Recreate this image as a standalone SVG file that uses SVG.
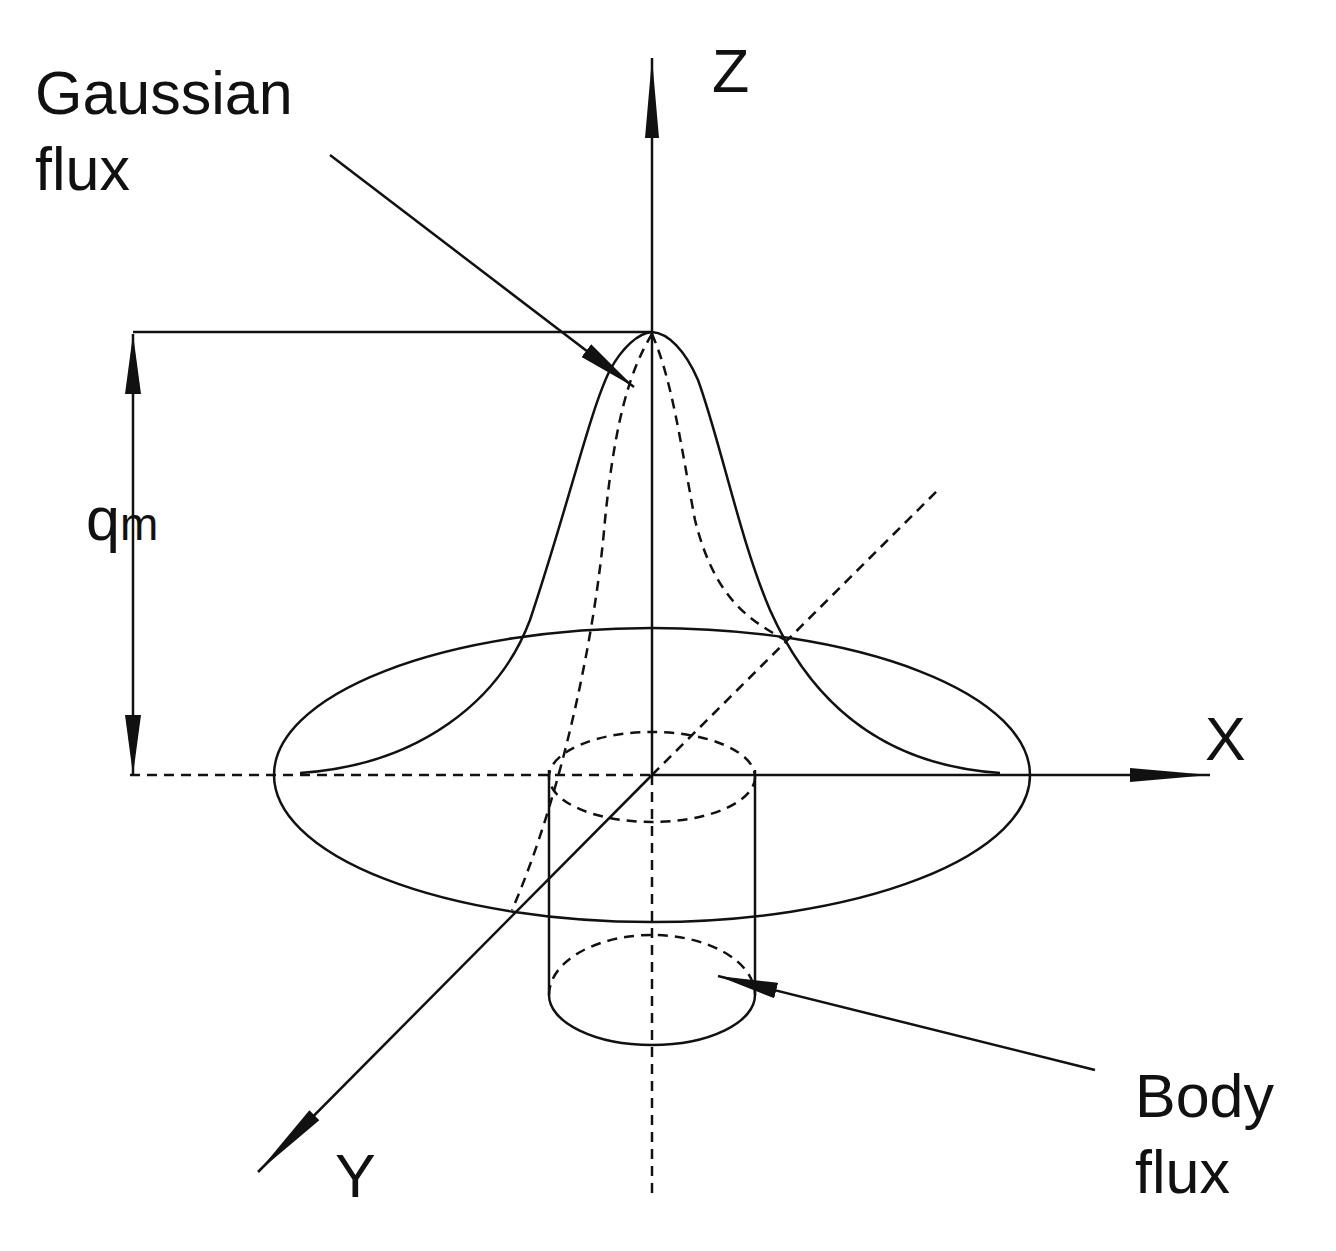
<svg xmlns="http://www.w3.org/2000/svg" width="1336" height="1251" viewBox="0 0 1336 1251">
<style>
.s{fill:none;stroke:#111;stroke-width:2.5}
.d{fill:none;stroke:#111;stroke-width:2.5;stroke-dasharray:10 7}
.t{font-family:"Liberation Sans",Arial,sans-serif;font-size:61px;fill:#111}
</style>
<defs>
<marker id="a" viewBox="0 0 80 20" refX="80" refY="10" markerWidth="80" markerHeight="20" markerUnits="userSpaceOnUse" orient="auto"><path d="M0,3 L80,10 L0,17 Z" fill="#111"/></marker>
<marker id="b" viewBox="0 0 60 16" refX="60" refY="8" markerWidth="60" markerHeight="16" markerUnits="userSpaceOnUse" orient="auto"><path d="M0,0 L60,8 L0,16 Z" fill="#111"/></marker>
</defs>
<rect width="1336" height="1251" fill="#fff"/>
<g id="connectors">
<line class="s" x1="652" y1="775" x2="652" y2="58" marker-end="url(#a)"/>
<line class="d" x1="652" y1="775" x2="652" y2="1200"/>
<line class="s" x1="652" y1="775" x2="1210" y2="775" marker-end="url(#a)"/>
<line class="d" x1="130" y1="775" x2="652" y2="775"/>
<line class="s" x1="652" y1="775" x2="258" y2="1172" marker-end="url(#a)"/>
<line class="d" x1="652" y1="775" x2="940" y2="488"/>
<line class="s" x1="133" y1="332" x2="652" y2="332"/>
<line class="s" x1="133" y1="560" x2="133" y2="334" marker-end="url(#b)"/>
<line class="s" x1="133" y1="560" x2="133" y2="775" marker-end="url(#b)"/>
<line class="s" x1="330" y1="155" x2="634" y2="387" marker-end="url(#b)"/>
<line class="s" x1="1095" y1="1070" x2="718" y2="976" marker-end="url(#b)"/>
</g>
<g id="disc"><ellipse class="s" cx="652" cy="775" rx="378" ry="147"/></g>
<g id="gaussian">
<path class="s" d="M300,773 C420,765 500,700 530,620 C570,500 590,410 610,370 C622,348 638,333 652,332 C668,333 685,350 698,380 C720,440 740,540 770,610 C810,700 880,765 1000,773"/>
<path class="d" d="M652,334 C630,370 615,420 605,520 C595,640 560,800 512,910"/>
<path class="d" d="M652,334 C672,380 680,440 695,520 C715,600 750,620 785,640"/>
</g>
<g id="cylinder">
<ellipse class="d" cx="652" cy="777" rx="103" ry="45"/>
<line class="s" x1="549" y1="770" x2="549" y2="995"/>
<line class="s" x1="755" y1="770" x2="755" y2="995"/>
<path class="d" d="M549,995 A103,60 0 0 1 755,995"/>
<path class="s" d="M549,995 A103,50 0 0 0 755,995"/>
</g>
<g id="labels">
<text class="t" x="35" y="114">Gaussian</text>
<text class="t" x="35" y="190">flux</text>
<text class="t" x="86" y="540">q<tspan font-size="46">m</tspan></text>
<text class="t" x="712" y="92">Z</text>
<text class="t" x="1205" y="760">X</text>
<text class="t" x="335" y="1197">Y</text>
<text class="t" x="1135" y="1117">Body</text>
<text class="t" x="1135" y="1193">flux</text>
</g>
</svg>
